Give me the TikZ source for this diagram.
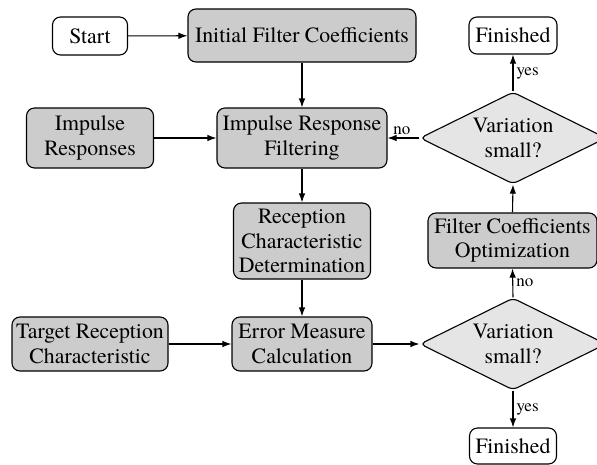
\documentclass[tikz,border=0pt]{standalone}
\usepackage{fontspec}
\setmainfont{TeX Gyre Termes}
\usetikzlibrary{shapes.geometric,arrows.meta}

\tikzset{
  every node/.style={font=\rmfamily\fontsize{21.8}{24.5}\selectfont},
  basebox/.style={draw, line width=1.1pt, rounded corners=8pt, align=center,
    inner sep=0pt, minimum width=#1},
  endbox/.style={basebox=#1, fill=white},
  procbox/.style={basebox=#1, fill=gray!40},
  decision/.style={diamond, draw, line width=1.1pt, fill=gray!20, rounded corners=5pt,
    align=center, inner sep=0pt, aspect=2, minimum width=186pt, minimum height=92pt},
  flow/.style={draw, line width=1.1pt, -{Latex[length=9pt,width=6.5pt]}},
  lbl/.style={font=\rmfamily\fontsize{17}{19}\selectfont, inner sep=3pt}
}

\begin{document}
\begin{tikzpicture}[x=1pt,y=-1pt]
  \useasboundingbox (0,0) rectangle (597,464);
  \clip (0,0) rectangle (597,464);

  % left column: inputs
  \node[endbox=75pt, minimum height=38pt] (start) at (90,36) {Start};
  \node[procbox=127pt, minimum height=60pt] (imp) at (90,138) {Impulse\\Responses};
  \node[procbox=156pt, minimum height=54pt] (target) at (90,344) {Target Reception\\Characteristic};

  % middle column: processing chain
  \node[procbox=228pt, minimum height=53pt] (init) at (302,35.5) {Initial Filter Coefficients};
  \node[procbox=170pt, minimum height=60pt] (filt) at (302,138) {Impulse Response\\Filtering};
  \node[procbox=137pt, minimum height=76pt] (recep) at (302,241) {Reception\\Characteristic\\Determination};
  \node[procbox=140pt, minimum height=54pt] (err) at (302,344) {Error Measure\\Calculation};

  % right column: decisions and optimisation
  \node[endbox=88pt, minimum height=37pt] (fintop) at (513,35.5) {Finished};
  \node[decision] (dtop) at (513,138) {Variation\\small?};
  \node[procbox=169pt, minimum height=55pt] (opt) at (512.5,240.5) {Filter Coefficients\\Optimization};
  \node[decision] (dbot) at (513,344) {Variation\\small?};
  \node[endbox=87pt, minimum height=36pt] (finbot) at (513,446) {Finished};

  % connectors
  \draw[flow] (start) -- (init);
  \draw[flow] (init) -- (filt);
  \draw[flow] (imp) -- (filt);
  \draw[flow] (filt) -- (recep);
  \draw[flow] (recep) -- (err);
  \draw[flow] (target) -- (err);
  \draw[flow] (err) -- (dbot);
  \draw[flow] (dbot.south) -- node[lbl, right, midway] {yes} (finbot.north);
  \draw[flow] (dbot.north) -- node[lbl, right, midway] {no} (opt.south);
  \draw[flow] (opt.north) -- (dtop.south);
  \draw[flow] (dtop.north) -- node[lbl, right, midway] {yes} (fintop.south);
  \draw[flow] (dtop.west) -- node[lbl, above, pos=0.55] {no} (filt.east);
\end{tikzpicture}
\end{document}
